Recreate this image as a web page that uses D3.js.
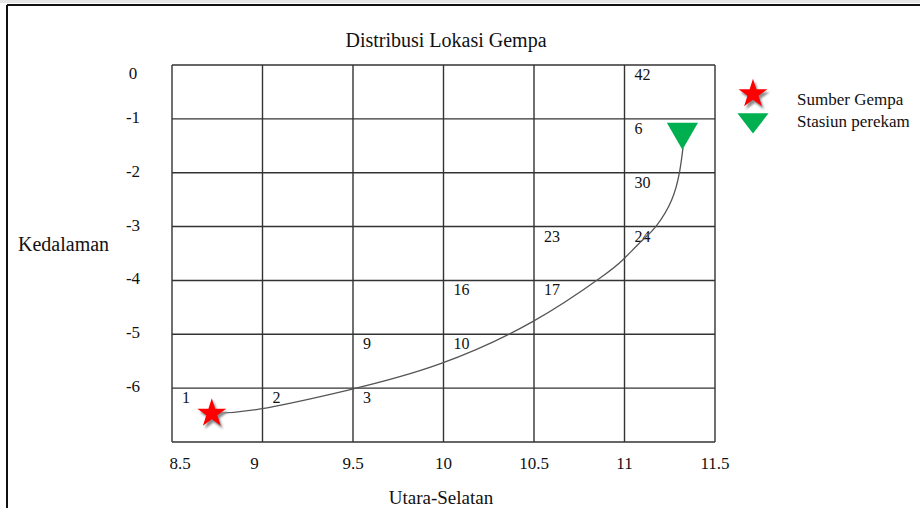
<!DOCTYPE html>
<html>
<head>
<meta charset="utf-8">
<script src="https://cdn.jsdelivr.net/npm/d3@7"></script>
<style>
  body { margin: 0; background: #fff; }
  text { font-family: "Liberation Serif", "Times New Roman", serif; fill: #111; }
</style>
</head>
<body>
<div id="chart"></div>
<script>
const xTicks = [8.5, 9, 9.5, 10, 10.5, 11, 11.5];
const yTicks = [0, -1, -2, -3, -4, -5, -6];
const rowLines = [0, -1, -2, -3, -4, -5, -6, -7];

// counts written in the grid cells: [column, row, label]
const cellLabels = [
  [5, 0, "42"], [5, 1, "6"], [5, 2, "30"],
  [4, 3, "23"], [5, 3, "24"],
  [3, 4, "16"], [4, 4, "17"],
  [2, 5, "9"], [3, 5, "10"],
  [0, 6, "1"], [1, 6, "2"], [2, 6, "3"]
];

// path from source to station
const pathX = [8.72, 8.98, 9.48, 9.98, 10.49, 10.865, 10.99, 11.10, 11.175, 11.26, 11.305, 11.323];
const pathY = [-6.47, -6.39, -6.03, -5.55, -4.77, -3.955, -3.62, -3.25, -2.99, -2.51, -1.97, -1.54];

const source = { x: 8.72, y: -6.47 };
const station = { x: 11.32, y: -1.24 };

const legendItems = ["Sumber Gempa", "Stasiun perekam"];

const W = 920, H = 508;
const svg = d3.select("#chart").append("svg")
  .attr("width", W).attr("height", H);

const defs = svg.append("defs");
defs.append("filter").attr("id", "blur")
  .append("feGaussianBlur").attr("stdDeviation", 1);

// page frame
svg.append("rect").attr("x", 0).attr("y", 0).attr("width", W).attr("height", 3).attr("fill", "#e6e6e6");
svg.append("line").attr("x1", 7).attr("x2", W).attr("y1", 5).attr("y2", 5)
  .attr("stroke", "#111").attr("stroke-width", 2);
svg.append("line").attr("x1", 7).attr("x2", 7).attr("y1", 5).attr("y2", H)
  .attr("stroke", "#111").attr("stroke-width", 2);

const x = d3.scaleLinear().domain([8.5, 11.5]).range([172, 715]);
const y = d3.scaleLinear().domain([0, -7]).range([65, 442]);

// grid
const grid = svg.append("g").attr("stroke", "#333").attr("stroke-width", 1.4);
grid.selectAll(".v").data(xTicks).enter().append("line")
  .attr("x1", d => x(d)).attr("x2", d => x(d))
  .attr("y1", y(0)).attr("y2", y(-7));
grid.selectAll(".h").data(rowLines).enter().append("line")
  .attr("x1", x(8.5)).attr("x2", x(11.5))
  .attr("y1", d => y(d)).attr("y2", d => y(d));

// tick labels
svg.selectAll(".xt").data(xTicks).enter().append("text")
  .attr("x", d => x(d) + (d === 8.5 ? 8 : d === 9 ? -8 : 0))
  .attr("y", 469)
  .attr("text-anchor", "middle")
  .style("font-size", "17px")
  .text(d => d);

svg.selectAll(".yt").data(yTicks).enter().append("text")
  .attr("x", 133)
  .attr("y", d => y(d) + (d === 0 ? 14 : 4))
  .attr("text-anchor", "middle")
  .style("font-size", "17px")
  .text(d => d);

// cell labels
const colLeft = i => x(xTicks[i]);
svg.selectAll(".cell").data(cellLabels).enter().append("text")
  .attr("x", d => colLeft(d[0]) + 10)
  .attr("y", d => y(-d[1]) + 15)
  .style("font-size", "16px")
  .text(d => d[2]);

// ray path
const line = d3.line().x(d => x(d[0])).y(d => y(d[1])).curve(d3.curveNatural);
svg.append("path")
  .datum(d3.zip(pathX, pathY))
  .attr("fill", "none")
  .attr("stroke", "#555")
  .attr("stroke-width", 1.3)
  .attr("d", line);

const star = d3.symbol().type(d3.symbolStar).size(260);
const tri = d3.symbol().type(d3.symbolTriangle).size(420);

function drawStar(cx, cy) {
  svg.append("path").attr("d", star())
    .attr("transform", `translate(${cx + 2},${cy + 3})`)
    .attr("fill", "#8a8a8a").attr("filter", "url(#blur)");
  svg.append("path").attr("d", star())
    .attr("transform", `translate(${cx},${cy})`)
    .attr("fill", "#ff0000");
}
function drawTri(cx, cy, sy) {
  svg.append("path").attr("d", tri())
    .attr("transform", `translate(${cx},${cy}) rotate(180) scale(1,${sy})`)
    .attr("fill", "#00b050");
}

drawStar(x(source.x), y(source.y));
drawTri(x(station.x), y(station.y), 1);

// legend
drawStar(753, 94);
drawTri(753, 120, 0.75);
svg.selectAll(".lg").data(legendItems).enter().append("text")
  .attr("x", 797)
  .attr("y", (d, i) => 105 + i * 22)
  .style("font-size", "17px")
  .text(d => d);

// titles
svg.append("text").attr("x", 446).attr("y", 47)
  .attr("text-anchor", "middle").style("font-size", "20px")
  .text("Distribusi Lokasi Gempa");
svg.append("text").attr("x", 18).attr("y", 251)
  .style("font-size", "20px")
  .text("Kedalaman");
svg.append("text").attr("x", 441).attr("y", 504)
  .attr("text-anchor", "middle").style("font-size", "19px")
  .text("Utara-Selatan");
</script>
</body>
</html>
